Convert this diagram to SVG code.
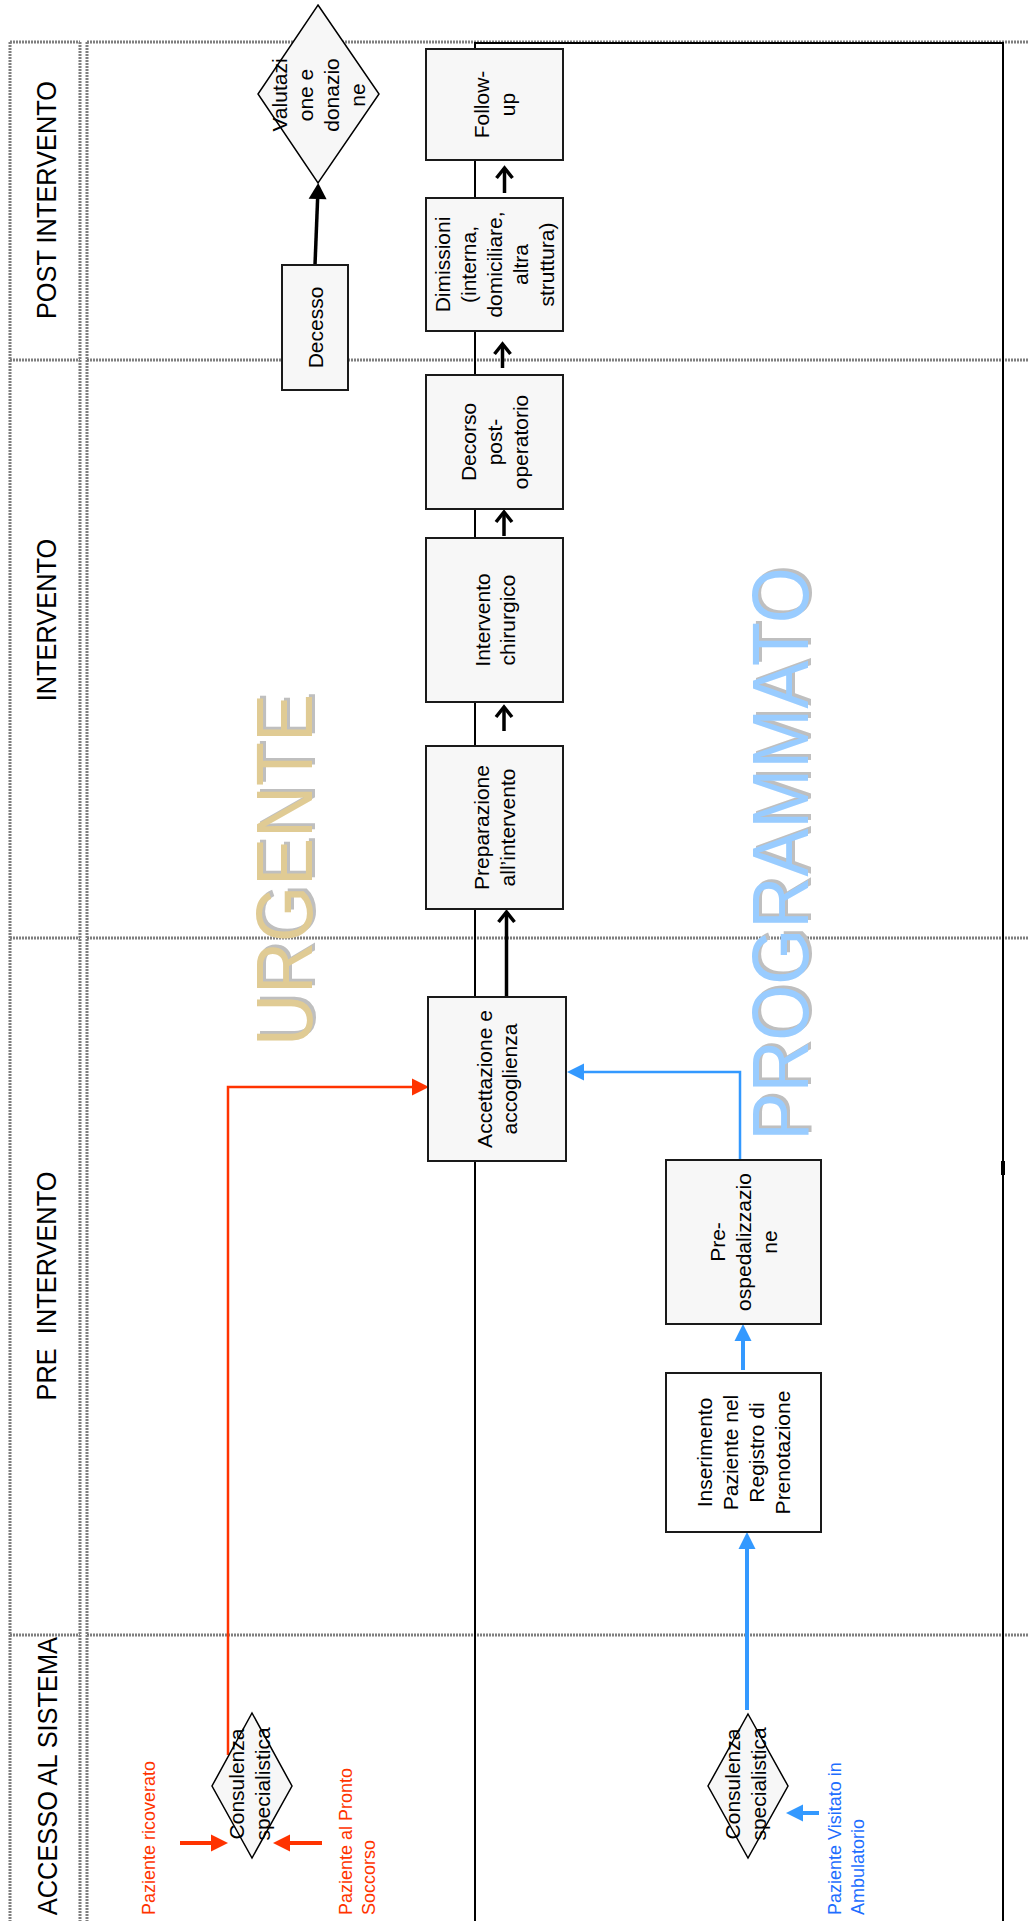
<svg xmlns="http://www.w3.org/2000/svg" width="1029" height="1921" viewBox="0 0 1029 1921">
  <style>
    .lane { fill: none; stroke: #7f7f7f; stroke-width: 3; stroke-dasharray: 2 1; }
    .frame { fill: none; stroke: #000; stroke-width: 2; }
    .box { fill: #f7f7f7; stroke: #1a1a1a; stroke-width: 2; }
    .box-w { fill: #ffffff; stroke: #1a1a1a; stroke-width: 2; }
    .dia { fill: #f7f7f7; stroke: #000; stroke-width: 1.5; }
    .lbl { font-family: "Liberation Sans", Arial, sans-serif; font-size: 21px; fill: #000; text-anchor: middle; }
    .hdr { font-family: "Liberation Sans", Arial, sans-serif; font-size: 27px; fill: #000; text-anchor: middle; white-space: pre; }
    .big { font-family: "Liberation Sans", Arial, sans-serif; font-size: 80px; text-anchor: middle; }
    .shadow { fill: #bfbfbf; }
    .note { font-family: "Liberation Sans", Arial, sans-serif; font-size: 18px; text-anchor: start; }
    .flow { stroke: #000; stroke-width: 3.5; fill: none; }
    .red { stroke: #ff3300; fill: none; }
    .blue { stroke: #3399ff; fill: none; }
  </style>
  <defs>
    <marker id="chev" markerUnits="userSpaceOnUse" orient="auto" overflow="visible" refX="0" refY="0" markerWidth="1" markerHeight="1">
      <path d="M-10,-8 L0,0 L-10,8" fill="none" stroke="#000" stroke-width="3.5"/>
    </marker>
    <marker id="head-black" markerUnits="userSpaceOnUse" orient="auto" overflow="visible" refX="0" refY="0" markerWidth="1" markerHeight="1">
      <path d="M0,-9 L16,0 L0,9 Z" fill="#000"/>
    </marker>
    <marker id="head-red" markerUnits="userSpaceOnUse" orient="auto" overflow="visible" refX="0" refY="0" markerWidth="1" markerHeight="1">
      <path d="M0,-8.5 L17,0 L0,8.5 Z" fill="#ff3300"/>
    </marker>
    <marker id="head-blue" markerUnits="userSpaceOnUse" orient="auto" overflow="visible" refX="0" refY="0" markerWidth="1" markerHeight="1">
      <path d="M0,-8.5 L17,0 L0,8.5 Z" fill="#3399ff"/>
    </marker>
  </defs>

  <rect width="1029" height="1921" fill="#fff"/>

  <!-- phase grid: header column and main area -->
  <g id="lanes">
    <path class="lane" d="M10,42 V1921 M80,42 V1921 M10,42 H80 M10,360 H80 M10,938 H80 M10,1635 H80"/>
    <path class="lane" d="M87,42 V1921 M87,42 H1029 M87,360 H1029 M87,938 H1029 M87,1635 H1029"/>
    <!-- solid frame of the process track -->
    <path class="frame" d="M475,1921 V43 H1003 V1921"/>
    <path d="M1003,1161 V1175" stroke="#000" stroke-width="4"/>
  </g>

  <!-- phase titles -->
  <g id="headers">
    <text class="hdr" transform="translate(56,200) rotate(-90) scale(0.94,1)">POST INTERVENTO</text>
    <text class="hdr" transform="translate(56,620) rotate(-90) scale(0.94,1)">INTERVENTO</text>
    <text class="hdr" transform="translate(56,1286) rotate(-90) scale(0.94,1)">PRE  INTERVENTO</text>
    <text class="hdr" style="text-anchor:end" transform="translate(57,1637) rotate(-90) scale(0.94,1)">ACCESSO AL SISTEMA</text>
  </g>

  <!-- track names -->
  <g id="tracks">
    <g transform="translate(312,870) rotate(-90) scale(0.9,1)">
      <text class="big shadow" x="3" y="3">URGENTE</text>
      <text class="big" fill="#e0cb94">URGENTE</text>
    </g>
    <g transform="translate(808,854) rotate(-90) scale(0.9,1)">
      <text class="big shadow" x="3" y="3">PROGRAMMATO</text>
      <text class="big" fill="#99ccff">PROGRAMMATO</text>
    </g>
  </g>

  <!-- connectors -->
  <g id="connectors">
    <line class="flow" x1="506.5" y1="997" x2="506.5" y2="912" marker-end="url(#chev)"/>
    <line class="flow" x1="504" y1="731" x2="504" y2="707" marker-end="url(#chev)"/>
    <line class="flow" x1="504" y1="536" x2="504" y2="512" marker-end="url(#chev)"/>
    <line class="flow" x1="502.5" y1="368" x2="502.5" y2="344" marker-end="url(#chev)"/>
    <line class="flow" x1="504.5" y1="193" x2="504.5" y2="168" marker-end="url(#chev)"/>
    <line class="flow" x1="315" y1="265" x2="317.6" y2="199" marker-end="url(#head-black)"/>

    <path class="red" stroke-width="2.5" d="M228,1755 V1087 H412" marker-end="url(#head-red)"/>
    <line class="red" stroke-width="4" x1="180" y1="1843" x2="211" y2="1843" marker-end="url(#head-red)"/>
    <line class="red" stroke-width="4" x1="322" y1="1843" x2="290" y2="1843" marker-end="url(#head-red)"/>

    <path class="blue" stroke-width="2.5" d="M740,1161 V1072 H584" marker-end="url(#head-blue)"/>
    <line class="blue" stroke-width="4" x1="747" y1="1710" x2="747" y2="1549" marker-end="url(#head-blue)"/>
    <line class="blue" stroke-width="4" x1="743" y1="1370" x2="743" y2="1341" marker-end="url(#head-blue)"/>
    <line class="blue" stroke-width="4" x1="819" y1="1813" x2="803" y2="1813" marker-end="url(#head-blue)"/>
  </g>

  <!-- nodes -->
  <g id="valutazione">
    <polygon class="dia" points="318,5 379,94 318,183 258,94"/>
    <text class="lbl" transform="translate(318,95) rotate(-90)">
      <tspan x="0" y="-31.5">Valutazi</tspan><tspan x="0" y="-5.5">one e</tspan><tspan x="0" y="20.5">donazio</tspan><tspan x="0" y="46.5">ne</tspan>
    </text>
  </g>

  <g id="decesso">
    <rect class="box" x="282" y="265" width="66" height="125"/>
    <text class="lbl" transform="translate(315,327.5) rotate(-90)"><tspan x="0" y="7.5">Decesso</tspan></text>
  </g>

  <g id="follow-up">
    <rect class="box" x="426" y="49" width="137" height="111"/>
    <text class="lbl" transform="translate(494.5,104.5) rotate(-90)">
      <tspan x="0" y="-5.25">Follow-</tspan><tspan x="0" y="20.25">up</tspan>
    </text>
  </g>

  <g id="dimissioni">
    <rect class="box" x="426" y="198" width="137" height="133"/>
    <text class="lbl" transform="translate(494.5,264.5) rotate(-90)">
      <tspan x="0" y="-44.5">Dimissioni</tspan><tspan x="0" y="-18.5">(interna,</tspan><tspan x="0" y="7.5">domiciliare,</tspan><tspan x="0" y="33.5">altra</tspan><tspan x="0" y="59.5">struttura)</tspan>
    </text>
  </g>

  <g id="decorso">
    <rect class="box" x="426" y="375" width="137" height="134"/>
    <text class="lbl" transform="translate(494.5,442) rotate(-90)">
      <tspan x="0" y="-18.5">Decorso</tspan><tspan x="0" y="7.5">post-</tspan><tspan x="0" y="33.5">operatorio</tspan>
    </text>
  </g>

  <g id="intervento">
    <rect class="box" x="426" y="538" width="137" height="164"/>
    <text class="lbl" transform="translate(495,620) rotate(-90)">
      <tspan x="0" y="-5.25">Intervento</tspan><tspan x="0" y="20.25">chirurgico</tspan>
    </text>
  </g>

  <g id="preparazione">
    <rect class="box" x="426" y="746" width="137" height="163"/>
    <text class="lbl" transform="translate(494.5,827.5) rotate(-90)">
      <tspan x="0" y="-5.25">Preparazione</tspan><tspan x="0" y="20.25">all’intervento</tspan>
    </text>
  </g>

  <g id="accettazione">
    <rect class="box" x="428" y="997" width="138" height="164"/>
    <text class="lbl" transform="translate(497,1079) rotate(-90)">
      <tspan x="0" y="-5.25">Accettazione e</tspan><tspan x="0" y="20.25">accoglienza</tspan>
    </text>
  </g>

  <g id="pre-ospedalizzazione">
    <rect class="box" x="666" y="1160" width="155" height="164"/>
    <text class="lbl" transform="translate(743.5,1242) rotate(-90)">
      <tspan x="0" y="-18.5">Pre-</tspan><tspan x="0" y="7.5">ospedalizzazio</tspan><tspan x="0" y="33.5">ne</tspan>
    </text>
  </g>

  <g id="inserimento">
    <rect class="box-w" x="666" y="1373" width="155" height="159"/>
    <text class="lbl" transform="translate(743.5,1452.5) rotate(-90)">
      <tspan x="0" y="-31.5">Inserimento</tspan><tspan x="0" y="-5.5">Paziente nel</tspan><tspan x="0" y="20.5">Registro di</tspan><tspan x="0" y="46.5">Prenotazione</tspan>
    </text>
  </g>

  <g id="consulenza-urgente">
    <polygon class="dia" points="252,1713 292,1786 252,1858 212,1786"/>
    <text class="lbl" transform="translate(249,1784) rotate(-90)">
      <tspan x="0" y="-5.5">Consulenza</tspan><tspan x="0" y="20.5">specialistica</tspan>
    </text>
  </g>

  <g id="consulenza-programmato">
    <polygon class="dia" points="748,1714 788,1786 748,1858 708,1786"/>
    <text class="lbl" transform="translate(745.5,1784) rotate(-90)">
      <tspan x="0" y="-5.5">Consulenza</tspan><tspan x="0" y="20.5">specialistica</tspan>
    </text>
  </g>

  <!-- entry points -->
  <g id="ingressi">
    <text class="note" fill="#ff3300" transform="translate(155,1915) rotate(-90)">Paziente ricoverato</text>
    <text class="note" fill="#ff3300" transform="translate(352,1915) rotate(-90)">
      <tspan x="0" y="0">Paziente al Pronto</tspan><tspan x="0" y="23">Soccorso</tspan>
    </text>
    <text class="note" fill="#1e6eff" transform="translate(841,1915) rotate(-90)">
      <tspan x="0" y="0">Paziente Visitato in</tspan><tspan x="0" y="23">Ambulatorio</tspan>
    </text>
  </g>
</svg>
